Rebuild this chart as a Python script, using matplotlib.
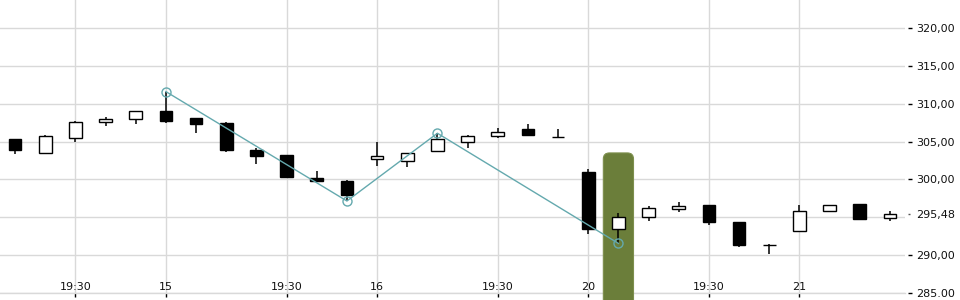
import matplotlib
matplotlib.use("Agg")
import matplotlib.pyplot as plt
from matplotlib.patches import FancyBboxPatch
from matplotlib.ticker import FixedLocator
import matplotlib.transforms as mtransforms

# ---- data ----
opens = [305.3, 303.45, 305.5, 307.6, 307.95, 309.05, 308.1, 307.45, 303.9, 303.25,
         300.15, 299.8, 302.65, 302.45, 303.7, 304.9, 305.7, 306.6, 305.55, 301.0,
         293.4, 295.1, 296.05, 296.6, 294.4, 291.3, 293.15, 295.8, 296.7, 294.9]
closes = [303.9, 305.75, 307.55, 307.95, 309.0, 307.75, 307.35, 303.9, 303.1, 300.3,
          299.85, 298.0, 303.05, 303.45, 305.3, 305.7, 306.2, 305.9, 305.55, 293.45,
          295.0, 296.2, 296.45, 294.4, 291.4, 291.3, 295.8, 296.6, 294.8, 295.48]
highs = [305.3, 305.9, 307.7, 308.25, 309.0, 311.6, 308.1, 307.6, 304.15, 303.25,
         301.1, 299.9, 304.95, 303.45, 306.1, 305.85, 306.75, 307.3, 306.6, 301.35,
         295.55, 296.5, 297.0, 296.6, 294.4, 291.5, 296.6, 296.6, 296.7, 295.85]
lows = [303.3, 303.45, 305.0, 307.1, 307.35, 307.5, 306.15, 303.65, 302.1, 300.3,
        299.85, 297.15, 301.8, 301.7, 303.7, 304.2, 305.5, 305.9, 305.55, 292.85,
        291.55, 294.55, 295.75, 294.0, 291.1, 290.2, 293.15, 295.8, 294.7, 294.55]

zigzag_idx = [5, 11, 14, 20]
zigzag_val = [311.6, 297.15, 306.1, 291.55]

x_tick_pos = [2, 5, 9, 12, 16, 19, 23, 26]
x_tick_labels = ['19:30', '15', '19:30', '16', '19:30', '20', '19:30', '21']

y_ticks = [285, 290, 295, 300, 305, 310, 315, 320]
y_tick_labels = ['285.00', '290,00', '', '300,00', '305,00', '310,00', '315,00', '320,00']
last_price = 295.48
last_price_label = '295,48'

highlight_idx = 20
highlight_top = 303.5

# ---- figure ----
plt.rcParams['font.family'] = ['DejaVu Sans']
W, H, DPI = 960, 300, 100
fig = plt.figure(figsize=(W / DPI, H / DPI), dpi=DPI)
ax_left, ax_right, ax_bottom, ax_top = 0, 905, 7, 300  # pixels
ax = fig.add_axes([ax_left / W, ax_bottom / H, (ax_right - ax_left) / W, (ax_top - ax_bottom) / H])

n = len(opens)
xs = list(range(n))
ax.set_xlim(-0.5, n - 0.5)
ax.set_ylim(285, 323.7)

grid_c = '#d9d9d9'
ax.set_axisbelow(True)
ax.grid(True, color=grid_c, linewidth=1.0)

for s in ['top', 'left', 'right']:
    ax.spines[s].set_visible(False)
ax.spines['bottom'].set_color(grid_c)
ax.spines['bottom'].set_linewidth(1.0)

# highlight box (rounded)
px_per_x = (ax_right - ax_left) / n
px_per_y = (ax_top - ax_bottom) / (323.7 - 285)
box = FancyBboxPatch((highlight_idx - 0.5, 280), 1.0, highlight_top - 280,
                     boxstyle="round,pad=0,rounding_size=0.2",
                     mutation_aspect=px_per_x / px_per_y,
                     facecolor='#6b7e3a', edgecolor='#7d8f4d', linewidth=0.8,
                     clip_on=False, zorder=3)
ax.add_patch(box)

# candles
bw = 0.42
for i in xs:
    o, c, h, l = opens[i], closes[i], highs[i], lows[i]
    ax.plot([i, i], [l, h], color='black', linewidth=1.1, zorder=4, solid_capstyle='butt')
    up = c >= o
    bottom = min(o, c)
    height = abs(c - o)
    ax.bar(i, height, bottom=bottom, width=bw,
           color='white' if up else 'black', edgecolor='black', linewidth=1.0, zorder=5)

# zigzag
zz_c = '#64a9ae'
ax.plot(zigzag_idx, zigzag_val, color=zz_c, linewidth=1.0, zorder=6,
        marker='o', markersize=6.5, markerfacecolor='none', markeredgecolor=zz_c,
        markeredgewidth=1.0)

# x ticks
ax.set_xticks(x_tick_pos)
ax.set_xticklabels([])
ax.tick_params(axis='x', direction='out', length=3, width=1.0, color='black')
offset = mtransforms.ScaledTranslation(0, 2.5 / DPI, fig.dpi_scale_trans)
trans = mtransforms.blended_transform_factory(ax.transData, ax.transAxes) + offset
for p, lab in zip(x_tick_pos, x_tick_labels):
    ax.text(p, 0, lab, transform=trans, ha='center', va='baseline', fontsize=8, color='#111111')

# y ticks on right
ax.yaxis.tick_right()
ax.spines['right'].set_position(('outward', 2.5))
ax.set_yticks(y_ticks)
ax.set_yticklabels(y_tick_labels)
ax.tick_params(axis='y', which='major', direction='out', length=3, width=1.0,
               color='black', pad=2.3, labelsize=8, labelcolor='#111111')
ax.yaxis.get_major_ticks()[2].tick2line.set_visible(False)
ax.yaxis.set_minor_locator(FixedLocator([last_price]))
ax.set_yticks([last_price], [last_price_label], minor=True)
ax.tick_params(axis='y', which='minor', direction='out', length=1.5, width=1.0,
               color='#555555', pad=3.8, labelsize=8, labelcolor='#111111', right=True, left=False,
               labelright=True, labelleft=False)
ax.grid(False, which='minor')

fig.savefig('out.png', dpi=DPI)
